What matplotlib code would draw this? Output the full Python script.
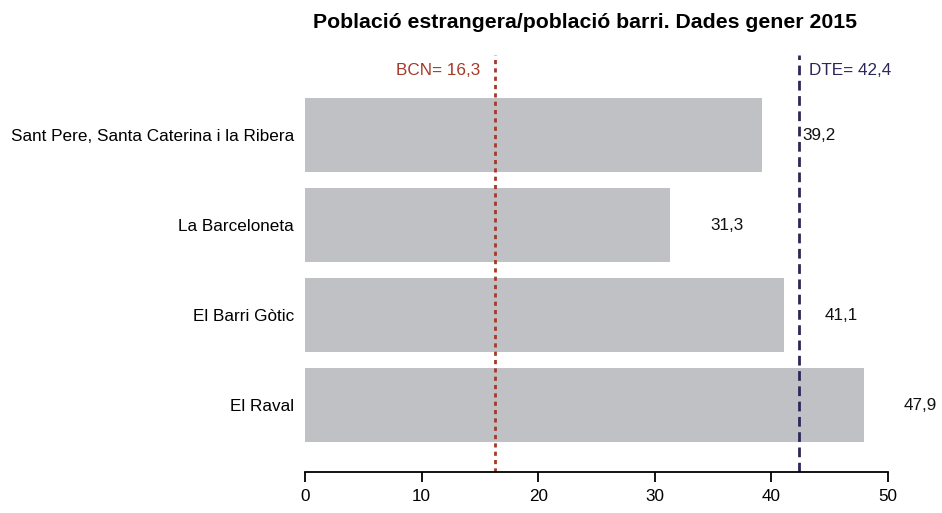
import matplotlib
matplotlib.use("Agg")
import matplotlib.pyplot as plt

plt.rcParams['font.family'] = ['Liberation Sans', 'DejaVu Sans']

categories = ["Sant Pere, Santa Caterina i la Ribera", "La Barceloneta", "El Barri Gòtic", "El Raval"]
values = [39.2, 31.3, 41.1, 47.9]
value_labels = ["39,2", "31,3", "41,1", "47,9"]
bcn_value = 16.3
dte_value = 42.4
bcn_label = "BCN= 16,3"
dte_label = "DTE= 42,4"
xticks = [0, 10, 20, 30, 40, 50]
title = "Població estrangera/població barri. Dades gener 2015"

W, H = 942, 513
fig = plt.figure(figsize=(W / 100, H / 100), dpi=100)
left, right, top, bottom = 305, 888, 55, 472
ax = fig.add_axes([left / W, 1 - bottom / H, (right - left) / W, (bottom - top) / H])

fs = 12.3
ypos = list(range(len(categories)))
ax.barh(ypos, values, height=0.82, color="#c0c1c4", zorder=1)
ax.set_xlim(0, 50)
ax.set_ylim(3.744, -0.889)

for y, v, lab in zip(ypos, values, value_labels):
    ax.text(v + 4.9, y, lab, ha="center", va="center", fontsize=fs, color="#111111")

ax.axvline(bcn_value, color="#a5392a", linestyle=(0, (1.5, 1.5)), linewidth=2, zorder=2)
ax.axvline(dte_value, color="#2b2757", linestyle=(0, (3.5, 2)), linewidth=2, zorder=2)
ax.text(bcn_value - 1.3, -0.72, bcn_label, ha="right", va="center", fontsize=fs, color="#a5392a")
ax.text(dte_value + 0.8, -0.72, dte_label, ha="left", va="center", fontsize=fs, color="#2b2757")

ax.set_yticks(ypos)
ax.set_yticklabels(categories, fontsize=fs)
ax.tick_params(axis="y", length=0, pad=8)
ax.set_xticks(xticks)
ax.set_xticklabels([str(t) for t in xticks], fontsize=fs)
ax.tick_params(axis="x", length=7.5, width=1.3, pad=5)
for s in ["left", "right", "top"]:
    ax.spines[s].set_visible(False)
ax.spines["bottom"].set_bounds(0, 50)
ax.spines["bottom"].set_linewidth(1.3)

fig.text(585 / W, 1 - 22 / H, title, ha="center", va="center", fontsize=15.3, fontweight="bold")

fig.savefig("out.png", dpi=100, facecolor="white")
